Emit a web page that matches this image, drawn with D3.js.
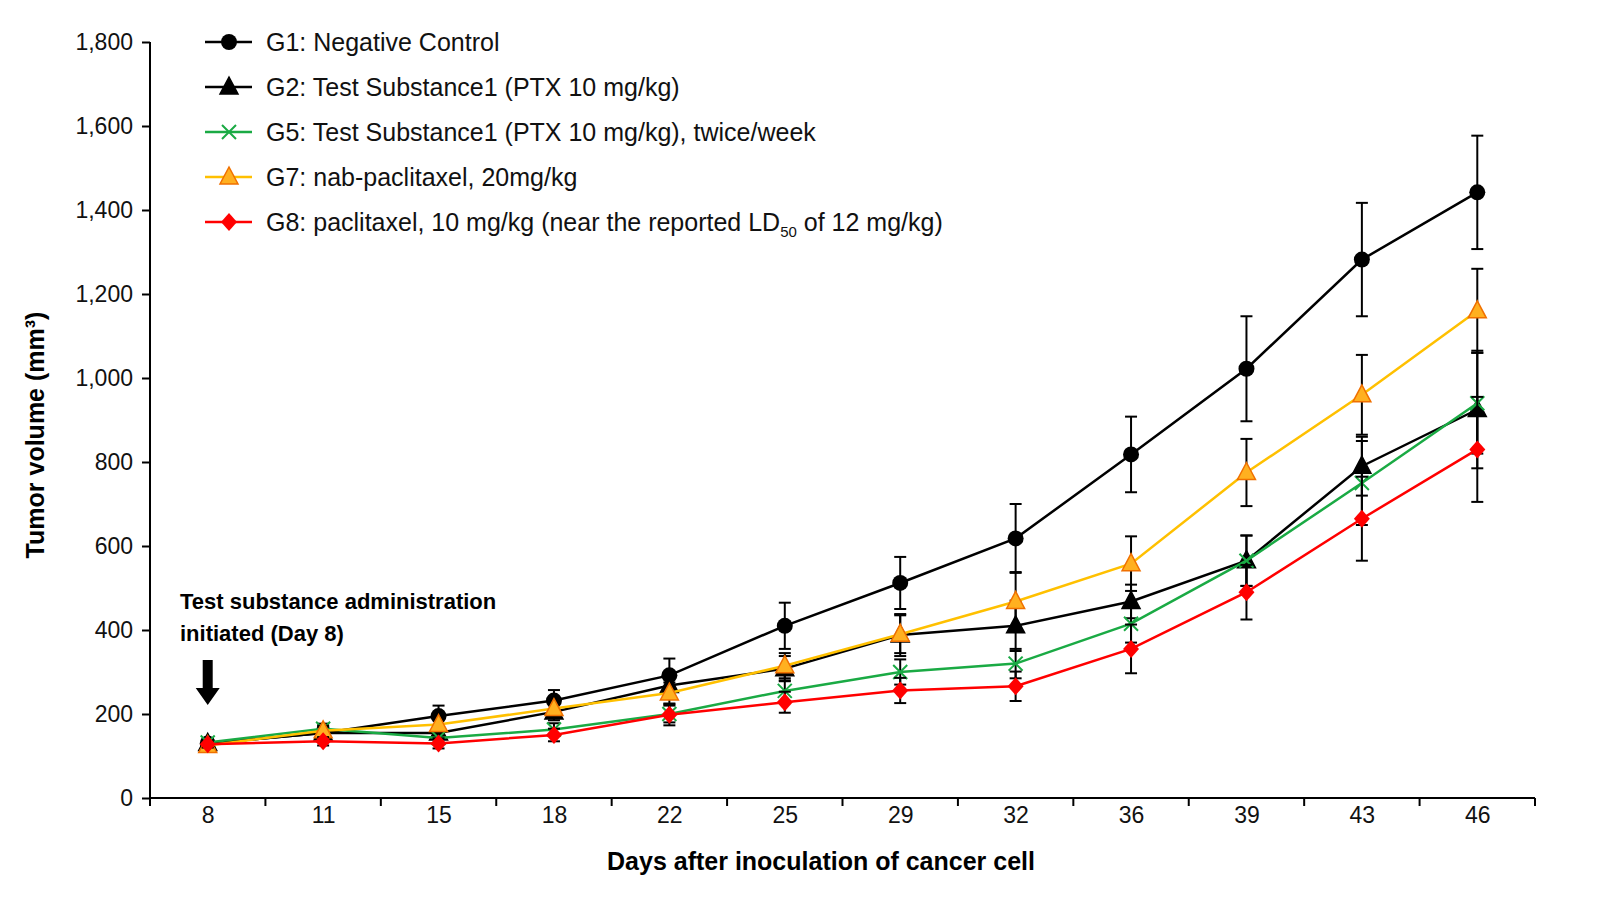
<!DOCTYPE html>
<html><head><meta charset="utf-8">
<script src="https://cdn.jsdelivr.net/npm/d3@7"></script>
<style>html,body{margin:0;background:#fff;overflow:hidden}svg{display:block}text{font-family:"Liberation Sans",Arial,sans-serif}</style>
</head><body><svg id="c" width="1600" height="900"></svg>
<script>
const days = ["8","11","15","18","22","25","29","32","36","39","43","46"];
const yTicks = [0,200,400,600,800,1000,1200,1400,1600,1800];
const g1 = [130,155,195,232,292,410,512,618,818,1022,1282,1442];
const g1e = [10,15,25,25,40,55,62,82,90,125,135,135];
const g2 = [130,155,155,205,268,308,388,410,468,565,790,925];
const g2e = [8,12,12,20,25,30,50,60,40,60,70,140];
const g5 = [132,165,143,163,200,255,300,320,415,565,750,940];
const g5e = [8,12,12,15,20,25,30,35,45,60,100,120];
const g7 = [125,160,175,213,250,315,390,468,558,775,960,1160];
const g7e = [8,12,15,20,25,30,45,70,65,80,95,100];
const g8 = [128,135,130,150,198,228,256,266,355,490,665,830];
const g8e = [8,10,12,15,25,25,30,35,58,65,100,125];
const names = ["G1: Negative Control","G2: Test Substance1 (PTX 10 mg/kg)","G5: Test Substance1 (PTX 10 mg/kg), twice/week","G7: nab-paclitaxel, 20mg/kg","G8: paclitaxel, 10 mg/kg (near the reported LD"];

const series = [
 {v:g1,e:g1e,c:"#000",m:"circle",fill:"#000"},
 {v:g2,e:g2e,c:"#000",m:"triangle",fill:"#000"},
 {v:g5,e:g5e,c:"#1aaa44",m:"x",fill:"none"},
 {v:g7,e:g7e,c:"#ffc000",m:"triangle",fill:"#ffb020",stroke:"#f07000"},
 {v:g8,e:g8e,c:"#ff0000",m:"diamond",fill:"#ff0000"}
];
const svg = d3.select("#c");
const x = d3.scalePoint().domain(days).range([150,1535]).padding(0.5);
const y = d3.scaleLinear().domain([0,1800]).range([798,42]);

const ya = svg.append("g").attr("transform","translate(150,0)").call(d3.axisLeft(y).tickValues(yTicks).tickSize(8).tickFormat(d3.format(",")));
ya.selectAll("text").attr("font-size",23).attr("fill","#111").attr("dx",-6);
ya.select(".domain").attr("d","M0,42V798");
const xa = svg.append("g").attr("transform","translate(0,798)").call(d3.axisBottom(x).tickSize(0));
xa.selectAll("text").attr("font-size",23).attr("fill","#111").attr("dy",22);
xa.select(".domain").attr("d","M150,0H1535");
svg.selectAll(".domain").attr("stroke","#000").attr("stroke-width",2);
svg.selectAll(".tick line").attr("stroke","#000").attr("stroke-width",2);
const step = x.step();
for(let i=0;i<=12;i++){ svg.append("line").attr("x1",150+i*step).attr("x2",150+i*step).attr("y1",798).attr("y2",806).attr("stroke","#000").attr("stroke-width",2);}

svg.append("text").attr("x",821).attr("y",870).attr("text-anchor","middle").attr("font-size",25).attr("font-weight","bold").text("Days after inoculation of cancer cell");
svg.append("text").attr("transform","translate(44,435) rotate(-90)").attr("text-anchor","middle").attr("font-size",25).attr("font-weight","bold").text("Tumor volume (mm³)");

function marker(g,type,cx,cy,s){
  if(type==="circle") g.append("circle").attr("cx",cx).attr("cy",cy).attr("r",8).attr("fill",s.fill);
  else if(type==="triangle") g.append("path").attr("d",`M${cx},${cy-10}L${cx+9},${cy+7}L${cx-9},${cy+7}Z`).attr("fill",s.fill).attr("stroke",s.stroke||s.fill).attr("stroke-width",1.5);
  else if(type==="diamond") g.append("path").attr("d",`M${cx},${cy-9}L${cx+8},${cy}L${cx},${cy+9}L${cx-8},${cy}Z`).attr("fill",s.fill);
  else g.append("path").attr("d",`M${cx-7},${cy-7}L${cx+7},${cy+7}M${cx+7},${cy-7}L${cx-7},${cy+7}`).attr("stroke",s.c).attr("stroke-width",2);
}
const line = d3.line().x((d,i)=>x(days[i])).y(d=>y(d));
series.forEach(s=>{
  const g = svg.append("g");
  s.v.forEach((v,i)=>{
    const cx=x(days[i]);
    g.append("line").attr("x1",cx).attr("x2",cx).attr("y1",y(v-s.e[i])).attr("y2",y(v+s.e[i])).attr("stroke","#000").attr("stroke-width",2);
    [v-s.e[i],v+s.e[i]].forEach(t=>g.append("line").attr("x1",cx-6).attr("x2",cx+6).attr("y1",y(t)).attr("y2",y(t)).attr("stroke","#000").attr("stroke-width",2));
  });
  g.append("path").datum(s.v).attr("d",line).attr("fill","none").attr("stroke",s.c).attr("stroke-width",2.5);
  s.v.forEach((v,i)=>marker(g,s.m,x(days[i]),y(v),s));
});
series.forEach((s,i)=>{
  const ly=42+i*45;
  svg.append("line").attr("x1",205).attr("x2",252).attr("y1",ly).attr("y2",ly).attr("stroke",s.c).attr("stroke-width",2.5);
  marker(svg,s.m,229,ly,s);
  const t=svg.append("text").attr("x",266).attr("y",ly+9).attr("font-size",25).attr("fill","#111").text(names[i]);
  if(i===4){ t.append("tspan").attr("font-size",15).attr("dy",6).text("50"); t.append("tspan").attr("dy",-6).text(" of 12 mg/kg)"); }
});
svg.append("text").attr("x",180).attr("y",609).attr("font-size",22).attr("font-weight","bold").text("Test substance administration");
svg.append("text").attr("x",180).attr("y",641).attr("font-size",22).attr("font-weight","bold").text("initiated (Day 8)");
const ax=x("8");
svg.append("path").attr("d",`M${ax-5},660H${ax+5}V688H${ax+12}L${ax},705L${ax-12},688H${ax-5}Z`).attr("fill","#000");
</script></body></html>
